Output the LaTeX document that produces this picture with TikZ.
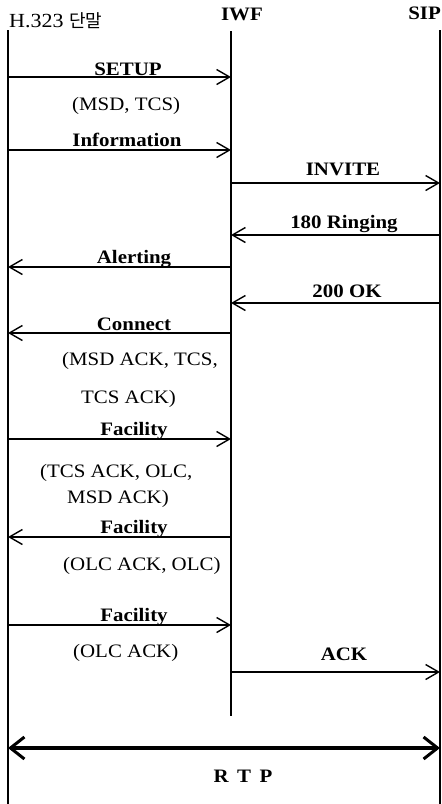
\documentclass[tikz,border=0pt]{standalone}
\usepackage{fontspec}
\setmainfont[FakeStretch=1.1]{Liberation Serif}
\newfontfamily\krfont{Noto Sans CJK KR}
\usetikzlibrary{arrows.meta}
\begin{document}
\begin{tikzpicture}[x=1pt,y=-1pt,
  life/.style={line width=1.2pt},
  msg/.style={line width=1.4pt,-{Straight Barb[length=13pt,width=15pt,line width=1.4pt]}},
  rtp/.style={line width=3.5pt,{Straight Barb[length=14pt,width=22pt,line width=3pt]}-{Straight Barb[length=14pt,width=22pt,line width=3pt]}},
  lbl/.style={font=\fontsize{19}{21}\selectfont\bfseries, anchor=base, inner sep=0pt},
  note/.style={font=\fontsize{19}{21}\selectfont, anchor=base west, inner sep=0pt},
  head/.style={font=\fontsize{20}{22}\selectfont, anchor=base, inner sep=0pt}]
\useasboundingbox (0,0) rectangle (442,804);
% headers
\node[head, anchor=base west] (hH) at (9,27) {H.323 {\krfont\fontsize{18}{20}\selectfont 단말}};
\node[head, font=\fontsize{19}{21}\selectfont\bfseries] (hI) at (242,20) {IWF};
\node[head, anchor=base east, font=\fontsize{19}{21}\selectfont\bfseries] (hS) at (441,19) {SIP};
% lifelines
\coordinate (Ht) at (8,30);   \coordinate (Hb) at (8,804);
\coordinate (It) at (231,31); \coordinate (Ib) at (231,716);
\coordinate (St) at (440,30); \coordinate (Sb) at (440,804);
\draw[life] (Ht) -- (Hb);
\draw[life] (It) -- (Ib);
\draw[life] (St) -- (Sb);
% message end points
\foreach \n/\y in {1/77,2/150,3/183,4/235,5/267,6/303,7/333,8/439,9/537,10/625,11/672,12/748}{
  \coordinate (h\n) at (8,\y);
  \coordinate (i\n) at (231,\y);
  \coordinate (s\n) at (440,\y);
}
% messages
\draw[msg] (h1) -- (i1);
\node[lbl] (l1) at (128,75) {SETUP};
\node[note] (n1) at (72,110) {(MSD, TCS)};
\draw[msg] (h2) -- (i2);
\node[lbl] (l2) at (127,146) {Information};
\draw[msg] (i3) -- (s3);
\node[lbl] (l3) at (343,175) {INVITE};
\draw[msg] (s4) -- (i4);
\node[lbl] (l4) at (344,228) {180 Ringing};
\draw[msg] (i5) -- (h5);
\node[lbl] (l5) at (134,263) {Alerting};
\draw[msg] (s6) -- (i6);
\node[lbl] (l6) at (347,297) {200 OK};
\draw[msg] (i7) -- (h7);
\node[lbl] (l7) at (134,330) {Connect};
\node[note] (n7a) at (62,365) {(MSD ACK, TCS,};
\node[note] (n7b) at (81,403) {TCS ACK)};
\draw[msg] (h8) -- (i8);
\node[lbl] (l8) at (134,435) {Facility};
\node[note] (n8a) at (40,477) {(TCS ACK, OLC,};
\node[note] (n8b) at (67,503) {MSD ACK)};
\draw[msg] (i9) -- (h9);
\node[lbl] (l9) at (134,533) {Facility};
\node[note] (n9) at (63,570) {(OLC ACK, OLC)};
\draw[msg] (h10) -- (i10);
\node[lbl] (l10) at (134,621) {Facility};
\node[note] (n10) at (73,657) {(OLC ACK)};
\draw[msg] (i11) -- (s11);
\node[lbl] (l11) at (344,660) {ACK};
% RTP
\draw[rtp] (h12) -- (s12);
\node[lbl] (l12) at (243,782) {R\hspace{0.45em}T\hspace{0.45em}P};
\end{tikzpicture}
\end{document}
